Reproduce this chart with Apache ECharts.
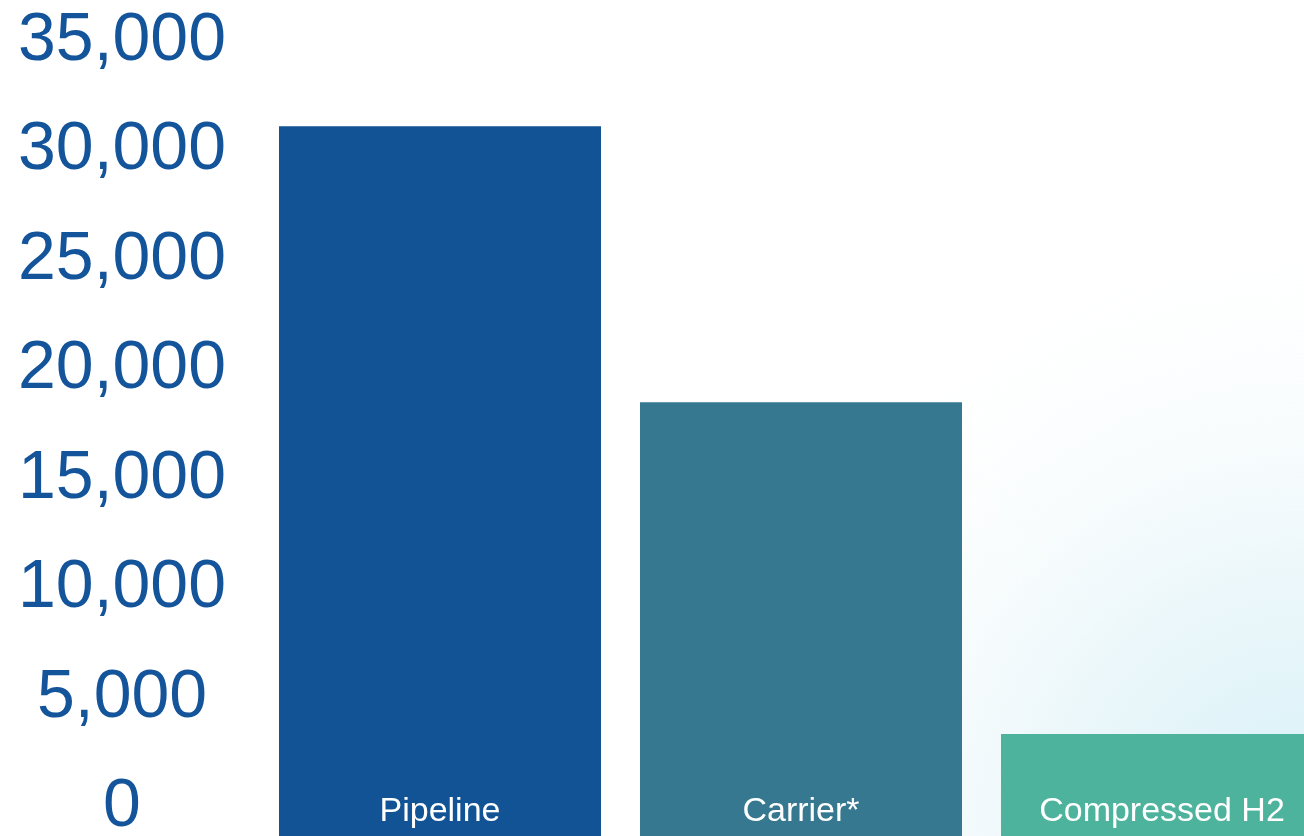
<!DOCTYPE html>
<html>
<head>
<meta charset="utf-8">
<script src="https://cdn.jsdelivr.net/npm/echarts@6/dist/echarts.min.js"></script>
<style>html,body{margin:0;padding:0;background:#fff;}#c{width:1304px;height:836px;}</style>
</head>
<body>
<div id="c"></div>
<script>
const categories = ['Pipeline', 'Carrier*', 'Compressed H2'];
const values = [30900, 18300, 3150];
const barColors = ['#115395', '#357890', '#4DB39D'];
const yTicks = [0, 5000, 10000, 15000, 20000, 25000, 30000, 35000];

// layout: categories sit on the grid edges (boundaryGap false), bars overflow sideways
const gridTop = 36.5, gridBottom = 33, gridLeft = 440, gridWidth = 722;
const plotH = 836 - gridTop - gridBottom;
const yMax = yTicks[yTicks.length - 1];
const belowZero = -gridBottom / plotH * yMax; // extends bars to the bottom edge (visual only)

const chart = echarts.init(document.getElementById('c'), null, {renderer: 'canvas'});
chart.setOption({
  animation: false,
  graphic: [{
    type: 'rect', z: -10, silent: true,
    shape: {x: 0, y: 0, width: 1304, height: 836},
    style: {
      fill: {
        type: 'radial', x: 1, y: 1, r: 0.75,
        colorStops: [
          {offset: 0, color: '#d6f0f6'},
          {offset: 0.45, color: '#eef8fb'},
          {offset: 1, color: 'rgba(255,255,255,0)'}
        ]
      }
    }
  }],
  grid: {top: gridTop, height: plotH, left: gridLeft, width: gridWidth, containLabel: false, outerBoundsMode: 'none'},
  xAxis: {
    type: 'category', data: categories, z: 10, boundaryGap: false,
    axisLine: {show: false}, axisTick: {show: false},
    axisLabel: {
      color: '#ffffff', fontSize: 34, fontFamily: 'Liberation Sans, Arial, sans-serif',
      verticalAlign: 'middle', margin: 9, interval: 0
    }
  },
  yAxis: {
    type: 'value', min: 0, max: yMax, interval: 5000,
    splitLine: {show: false}, axisLine: {show: false}, axisTick: {show: false},
    axisLabel: {
      color: '#13549A', fontSize: 68, fontFamily: 'Liberation Sans, Arial, sans-serif',
      align: 'center', verticalAlign: 'top', lineHeight: 9, margin: 318,
      formatter: v => v.toLocaleString('en-US')
    }
  },
  series: [
    {
      type: 'bar', name: 'value', data: values.map((v, i) => ({value: v, itemStyle: {color: barColors[i]}})),
      barCategoryGap: '10.8%', barGap: '-100%', clip: false
    },
    {
      type: 'bar', name: 'base', silent: true,
      data: values.map((v, i) => ({value: belowZero, itemStyle: {color: barColors[i]}})),
      barCategoryGap: '10.8%', barGap: '-100%', clip: false
    }
  ]
});
</script>
</body>
</html>
